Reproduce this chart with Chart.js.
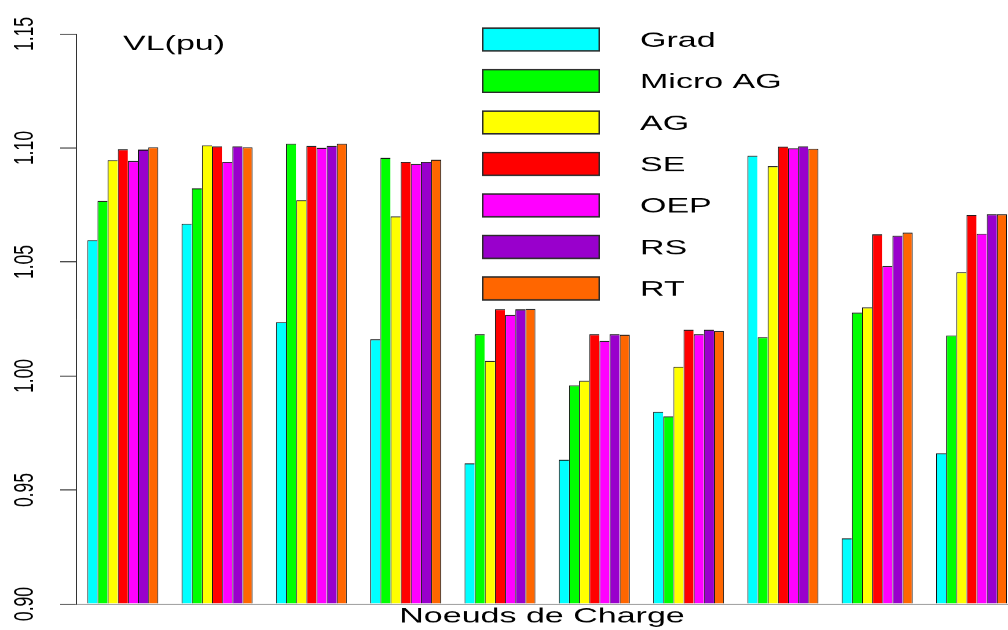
<!DOCTYPE html>
<html>
<head>
<meta charset="utf-8">
<script src="https://cdn.jsdelivr.net/npm/chart.js@4/dist/chart.umd.min.js"></script>
<style>
  html, body { margin: 0; padding: 0; background: #fff; overflow: hidden; }
  canvas { display: block; }
</style>
</head>
<body>
<!-- Drawing surface is 1008 units tall but shown 630 px tall: text and shapes come out wide. -->
<canvas id="c" width="1008" height="1008" style="width:1008px;height:630px"></canvas>
<script>
// Load nodes (group positions on the x axis)
const nodes = [0, 1, 2, 3, 4, 5, 6, 7, 8, 9];

// Optimisation methods and their colours
const methods = ['Grad', 'Micro AG', 'AG', 'SE', 'OEP', 'RS', 'RT'];
const colors  = ['#00FFFF', '#00FF00', '#FFFF00', '#FF0000', '#FF00FF', '#9900CC', '#FF6600'];

// Voltage level (pu) at each load node, per method
const grad    = [1.0596, 1.0668, 1.0236, 1.0161, 0.9617, 0.9633, 0.9843, 1.0966, 0.9288, 0.9661];
const microAG = [1.0768, 1.0823, 1.1019, 1.0957, 1.0183, 0.9959, 0.9823, 1.0170, 1.0278, 1.0178];
const ag      = [1.0947, 1.1012, 1.0771, 1.0700, 1.0066, 0.9979, 1.0041, 1.0920, 1.0301, 1.0455];
const se      = [1.0994, 1.1007, 1.1009, 1.0939, 1.0293, 1.0183, 1.0203, 1.1006, 1.0621, 1.0706];
const oep     = [1.0943, 1.0939, 1.1001, 1.0930, 1.0268, 1.0154, 1.0183, 1.0999, 1.0482, 1.0624];
const rs      = [1.0993, 1.1007, 1.1009, 1.0939, 1.0292, 1.0183, 1.0203, 1.1007, 1.0615, 1.0709];
const rt      = [1.1003, 1.1003, 1.1019, 1.0949, 1.0294, 1.0181, 1.0197, 1.0997, 1.0629, 1.0709];

// Y axis
const yTicks = [0.90, 0.95, 1.00, 1.05, 1.10, 1.15];
const yMin = 0.90;
const yMax = 1.15;
const yUnit = 'VL(pu)';
const xTitle = 'Noeuds de Charge';

const series = [grad, microAG, ag, se, oep, rs, rt];

// vertical squeeze of the canvas (1008 -> 630)
const SY = 1008 / 630;
const FONT = '"Liberation Sans", Arial, Helvetica, sans-serif';

const datasets = series.map((vals, i) => ({
  label: methods[i],
  data: vals.map((v, j) => ({ x: nodes[j], y: v })),
  backgroundColor: colors[i],
  borderColor: '#111',
  borderWidth: { top: SY, left: 1, right: i === series.length - 1 ? 1 : 0, bottom: 0 },
  borderSkipped: false,
  inflateAmount: 0,
  base: yMin,
  categoryPercentage: 0.753,
  barPercentage: 1.0
}));

// Unit text and the boxed legend drawn over the plot
const overlay = {
  id: 'overlay',
  afterDraw(chart) {
    const ctx = chart.ctx;
    ctx.save();
    ctx.font = '34px ' + FONT;
    ctx.textBaseline = 'alphabetic';
    ctx.textAlign = 'left';
    ctx.fillStyle = '#000';
    ctx.fillText(yUnit, 123, 80);

    const bx = 482, bw = 118, bh = 38.9, top = 43.7, step = 66.4;
    chart.data.datasets.forEach((ds, i) => {
      const y = top + i * step;
      ctx.fillStyle = '#2a2a2a';
      ctx.fillRect(bx, y, bw, bh);
      ctx.fillStyle = ds.backgroundColor;
      ctx.fillRect(bx + 1.5, y + 1.5 * SY, bw - 3, bh - 3 * SY);
      ctx.fillStyle = '#000';
      ctx.fillText(ds.label, 640, y + 31);
    });
    ctx.restore();
  }
};

new Chart(document.getElementById('c'), {
  type: 'bar',
  data: { datasets },
  options: {
    responsive: false,
    devicePixelRatio: 1,
    animation: false,
    layout: { padding: { top: 54.4, bottom: 0.8, left: 0, right: 0 } },
    plugins: { legend: { display: false }, tooltip: { enabled: false } },
    scales: {
      x: {
        type: 'linear',
        min: -0.4963,
        max: 9.3871,
        offset: false,
        grid: { display: false, drawTicks: false },
        ticks: { display: false },
        border: { display: true, color: '#777', width: SY },
        title: {
          display: true,
          text: xTitle,
          color: '#000',
          font: { family: FONT, size: 34, lineHeight: 1.2 },
          padding: 0
        }
      },
      y: {
        min: yMin,
        max: yMax,
        afterBuildTicks(scale) { scale.ticks = yTicks.map(v => ({ value: v })); },
        afterFit(scale) { scale.width = 76; },
        grid: { drawOnChartArea: false, drawTicks: true, tickLength: 16, color: '#333', lineWidth: SY },
        border: { display: true, color: '#333', width: 1 },
        ticks: {
          autoSkip: false,
          minRotation: 90,
          maxRotation: 90,
          crossAlign: 'center',
          padding: 7,
          color: '#000',
          font: { family: FONT, size: 28 },
          callback: v => Number(v).toFixed(2)
        }
      }
    }
  },
  plugins: [overlay]
});
</script>
</body>
</html>
